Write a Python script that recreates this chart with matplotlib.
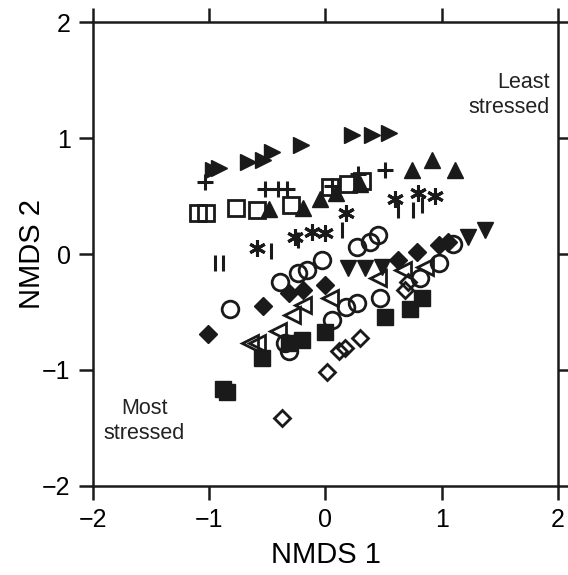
import matplotlib
matplotlib.use('Agg')
import matplotlib.pyplot as plt

plt.rcParams['font.family'] = ['Liberation Sans', 'DejaVu Sans']

# NMDS scores, one list per symbol group
tri_right_x = [-0.97, -0.92, -0.67, -0.54, -0.46, -0.21, 0.23, 0.40, 0.55]
tri_right_y = [0.72, 0.74, 0.79, 0.81, 0.88, 0.94, 1.03, 1.03, 1.04]

plus_x = [-1.04, -0.52, -0.41, -0.33, 0.06, 0.28, 0.51]
plus_y = [0.62, 0.56, 0.56, 0.56, 0.59, 0.69, 0.72]

osq_x = [-1.10, -1.03, -0.77, -0.59, -0.30, 0.04, 0.19, 0.31]
osq_y = [0.35, 0.35, 0.40, 0.38, 0.42, 0.58, 0.60, 0.63]

tri_up_x = [-0.49, -0.19, -0.05, 0.09, 0.30, 0.74, 0.92, 1.11]
tri_up_y = [0.39, 0.40, 0.47, 0.53, 0.60, 0.72, 0.81, 0.72]

ast_x = [-0.59, -0.26, -0.12, 0.00, 0.18, 0.60, 0.80, 0.94]
ast_y = [0.05, 0.15, 0.19, 0.18, 0.35, 0.47, 0.53, 0.50]

bar_x = [-0.95, -0.88, -0.47, -0.24, 0.14, 0.62, 0.75, 0.83]
bar_y = [-0.08, -0.08, 0.03, 0.12, 0.21, 0.38, 0.38, 0.42]

circ_x = [-0.82, -0.39, -0.24, -0.16, -0.03, 0.27, 0.38, 0.45, 0.18, 0.27,
          0.06, -0.35, -0.31, 1.10, 0.98, 0.81, 0.47]
circ_y = [-0.47, -0.24, -0.16, -0.14, -0.05, 0.06, 0.10, 0.16, -0.46, -0.42,
          -0.57, -0.77, -0.84, 0.09, -0.08, -0.21, -0.38]

fdia_x = [-1.01, -0.54, -0.31, -0.19, 0.00, 0.62, 0.79, 0.98, 1.05]
fdia_y = [-0.69, -0.45, -0.34, -0.31, -0.27, -0.05, 0.02, 0.08, 0.10]

tri_down_x = [0.19, 0.34, 0.49, 1.23, 1.37]
tri_down_y = [-0.12, -0.12, -0.11, 0.15, 0.21]

tri_left_x = [0.04, -0.19, -0.29, -0.41, -0.65, -0.59, 0.45, 0.67, 0.86]
tri_left_y = [-0.38, -0.44, -0.53, -0.66, -0.77, -0.77, -0.21, -0.14, -0.11]

fsq_x = [-0.88, -0.85, -0.55, -0.31, -0.20, 0.00, 0.51, 0.73, 0.83]
fsq_y = [-1.16, -1.19, -0.90, -0.77, -0.74, -0.67, -0.54, -0.47, -0.38]

odia_x = [0.30, 0.12, 0.17, 0.01, -0.37, 0.68, 0.71]
odia_y = [-0.72, -0.84, -0.81, -1.02, -1.41, -0.31, -0.24]

fig = plt.figure(figsize=(5.68, 5.75), dpi=100)
ax = fig.add_axes([0.1637, 0.1548, 0.8187, 0.8069])

k = dict(linestyle='none', color='#1a1a1a')
ax.plot(tri_right_x, tri_right_y, marker='>', markersize=12, **k)
ax.plot(plus_x, plus_y, marker='+', markersize=12, markeredgewidth=2.2, **k)
ax.plot(osq_x, osq_y, marker='s', markersize=11, markerfacecolor='none', markeredgewidth=2, **k)
ax.plot(tri_up_x, tri_up_y, marker='^', markersize=12, **k)
ax.plot(ast_x, ast_y, marker=(6, 2, 0), markersize=12, markeredgewidth=2.2, **k)
ax.plot(bar_x, bar_y, marker='|', markersize=12, markeredgewidth=2.2, **k)
ax.plot(circ_x, circ_y, marker='o', markersize=12, markerfacecolor='none', markeredgewidth=2, **k)
ax.plot(fdia_x, fdia_y, marker='D', markersize=9, **k)
ax.plot(tri_down_x, tri_down_y, marker='v', markersize=12, **k)
ax.plot(tri_left_x, tri_left_y, marker='<', markersize=12, markerfacecolor='none', markeredgewidth=2, **k)
ax.plot(fsq_x, fsq_y, marker='s', markersize=11, **k)
ax.plot(odia_x, odia_y, marker='D', markersize=8, markerfacecolor='none', markeredgewidth=2, **k)

ax.text(1.93, 1.37, 'Least\nstressed', ha='right', va='center', fontsize=15.5, color='#222222')
ax.text(-1.56, -1.44, 'Most\nstressed', ha='center', va='center', fontsize=15.5, color='#222222')

ax.set_xlim(-2, 2)
ax.set_ylim(-2, 2)
ax.set_xticks([-2, -1, 0, 1, 2])
ax.set_yticks([-2, -1, 0, 1, 2])
ax.set_xticklabels(['\u22122', '\u22121', '0', '1', '2'])
ax.set_yticklabels(['\u22122', '\u22121', '0', '1', '2'])
ax.tick_params(direction='out', length=10, width=1.8, labelsize=18, color='#1a1a1a',
               top=True, right=True, pad=6)
for s in ax.spines.values():
    s.set_linewidth(1.8)
    s.set_color('#1a1a1a')
ax.set_xlabel('NMDS 1', fontsize=21, labelpad=6)
ax.set_ylabel('NMDS 2', fontsize=21, labelpad=-3)

fig.savefig('out.png', dpi=100)
